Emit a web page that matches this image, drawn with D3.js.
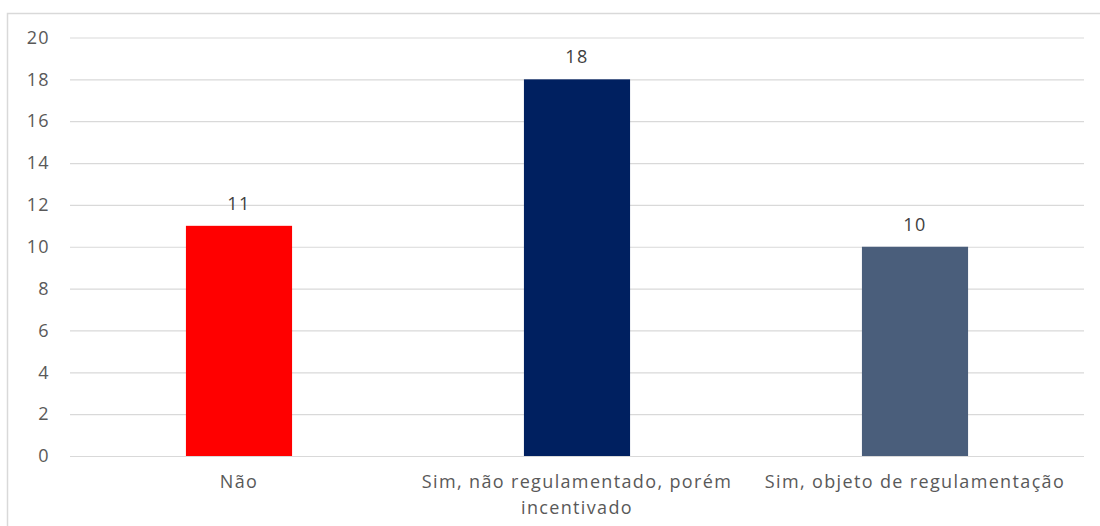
<!DOCTYPE html>
<html><head><meta charset="utf-8">
<script src="https://cdn.jsdelivr.net/npm/d3@7"></script>
<style>body{margin:0;background:#fff}svg{display:block}</style>
</head><body>
<svg id="c" width="1100" height="526"></svg>
<script>
const categories = [["Não"], ["Sim, não regulamentado, porém", "incentivado"], ["Sim, objeto de regulamentação"]];
const values = [11, 18, 10];
const colors = ["#FF0000", "#002060", "#4A5E7B"];
const yTicks = [0, 2, 4, 6, 8, 10, 12, 14, 16, 18, 20];

const svg = d3.select("#c");
const font = "'Open Sans', sans-serif";
const fs = "18px", ls = "1.35px";
// frame
svg.append("rect").attr("x", 7.5).attr("y", 13.5).attr("width", 1110).attr("height", 530)
  .attr("fill", "none").attr("stroke", "#d9d9d9").attr("stroke-width", 1.5);

const x = d3.scaleBand().domain(d3.range(values.length)).range([70, 1084])
  .paddingInner(0.686).paddingOuter(0.343);
const y = d3.scaleLinear().domain([0, 20]).range([456, 37.5]);

const gy = svg.append("g").attr("transform", "translate(70,0)")
  .call(d3.axisLeft(y).tickValues(yTicks).tickSize(-1014).tickPadding(20));
gy.select(".domain").remove();
gy.selectAll(".tick line").attr("stroke", "#d9d9d9").attr("stroke-width", 1.2);
gy.selectAll(".tick text").attr("fill", "#595959").style("font-family", font)
  .style("font-size", fs).style("letter-spacing", ls);

svg.selectAll("rect.bar").data(values).join("rect").attr("class", "bar")
  .attr("x", (d, i) => x(i)).attr("width", x.bandwidth())
  .attr("y", d => y(d)).attr("height", d => y(0) - y(d))
  .attr("fill", (d, i) => colors[i]);

svg.selectAll("text.lbl").data(values).join("text").attr("class", "lbl")
  .attr("x", (d, i) => x(i) + x.bandwidth() / 2).attr("y", d => y(d) - 16)
  .attr("text-anchor", "middle").attr("fill", "#404040")
  .style("font-family", font).style("font-size", fs).style("letter-spacing", ls).text(d => d);

const gx = svg.append("g");
categories.forEach((lines, i) => {
  const t = gx.append("text").attr("x", x(i) + x.bandwidth() / 2).attr("y", 488)
    .attr("text-anchor", "middle").attr("fill", "#595959")
    .style("font-family", font).style("font-size", fs).style("letter-spacing", ls);
  lines.forEach((l, k) => t.append("tspan").attr("x", x(i) + x.bandwidth() / 2)
    .attr("dy", k === 0 ? 0 : 26).text(l));
});
</script>
</body></html>
